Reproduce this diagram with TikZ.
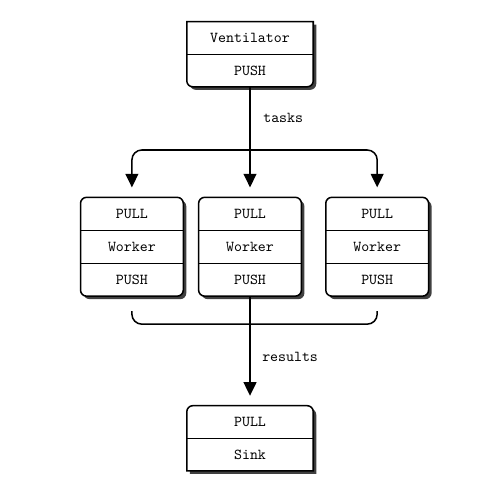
\documentclass[tikz,border=0pt]{standalone}
\usepackage{tikz}
\usetikzlibrary{positioning, arrows.meta, backgrounds}
\tikzset{
	bigcell/.style={
		inner sep=0pt,
		minimum width=2.92cm,
		minimum height=0.742cm,
		font=\ttfamily
	},
	cell/.style={
		inner sep=0pt,
		minimum width=2.37cm,
		minimum height=0.75cm,
		font=\ttfamily
	},
	box/.style={
		draw,
		line width=1pt,
		fill=white,
		preaction={fill=black!75, transform canvas={shift={(0.07,-0.07)}}}
	}
}

\begin{document}
\begin{tikzpicture}
	\tikzset{edge/.style={-{Triangle[width=8.5pt,length=9pt]}, line width=1pt, shorten >=0.23cm}}
	\tikzset{link/.style={line width=1pt}}
	\tikzset{divider/.style={line width=0.8pt}}
	
	\useasboundingbox (0,0) rectangle (11.53,11.46);
	
	% ventilator
	\node(vent) at (5.80,10.58) [bigcell] {Ventilator};
	\node(ventpush) [bigcell, below=0pt of vent] {PUSH};
	
	% workers
	\node(pull1) at (3.06,6.50) [cell] {PULL};
	\node(work1) [cell, below=0pt of pull1] {Worker};
	\node(push1) [cell, below=0pt of work1] {PUSH};
	
	\node(pull2) at (5.80,6.50) [cell] {PULL};
	\node(work2) [cell, below=0pt of pull2] {Worker};
	\node(push2) [cell, below=0pt of work2] {PUSH};
	
	\node(pull3) at (8.75,6.50) [cell] {PULL};
	\node(work3) [cell, below=0pt of pull3] {Worker};
	\node(push3) [cell, below=0pt of work3] {PUSH};
	
	% sink
	\node(sinkpull) at (5.80,1.67) [bigcell] {PULL};
	\node(sink) [bigcell, below=0pt of sinkpull] {Sink};
	
	\begin{scope}[on background layer]
		\draw[box] (vent.north west) -- (vent.north east)
			-- ([yshift=0.14cm]ventpush.south east) arc[start angle=0, end angle=-90, radius=0.14cm]
			-- ([xshift=0.14cm]ventpush.south west) arc[start angle=-90, end angle=-180, radius=0.14cm]
			-- cycle;
		\draw[box, rounded corners=0.14cm] (pull1.north west) rectangle (push1.south east);
		\draw[box, rounded corners=0.14cm] (pull2.north west) rectangle (push2.south east);
		\draw[box, rounded corners=0.14cm] (pull3.north west) rectangle (push3.south east);
		\draw[box] (sink.south west)
			-- ([yshift=-0.14cm]sinkpull.north west) arc[start angle=180, end angle=90, radius=0.14cm]
			-- ([xshift=-0.14cm]sinkpull.north east) arc[start angle=90, end angle=0, radius=0.14cm]
			-- (sink.south east) -- cycle;
	\end{scope}
	
	\draw[divider] (vent.south west) -- (vent.south east);
	\draw[divider] (pull1.south west) -- (pull1.south east);
	\draw[divider] (work1.south west) -- (work1.south east);
	\draw[divider] (pull2.south west) -- (pull2.south east);
	\draw[divider] (work2.south west) -- (work2.south east);
	\draw[divider] (pull3.south west) -- (pull3.south east);
	\draw[divider] (work3.south west) -- (work3.south east);
	\draw[divider] (sinkpull.south west) -- (sinkpull.south east);
	
	% tasks
	\coordinate(fork) at (5.80,7.98);
	\draw[edge] (ventpush.south) -- (pull2.north);
	\draw[edge, rounded corners=0.23cm] (fork) -| (pull1.north);
	\draw[edge, rounded corners=0.23cm] (fork) -| (pull3.north);
	\node(tasks) at (6.57,8.72) [font=\ttfamily] {tasks};
	
	% results
	\coordinate(join) at (5.80,3.94);
	\draw[link, shorten <=0.35cm, rounded corners=0.23cm] (push1.south) |- (join);
	\draw[link, shorten <=0.35cm, rounded corners=0.23cm] (push3.south) |- (join);
	\draw[edge] (push2.south) -- (sinkpull.north);
	\node(results) at (6.73,3.18) [font=\ttfamily] {results};
	
\end{tikzpicture}
\end{document}
